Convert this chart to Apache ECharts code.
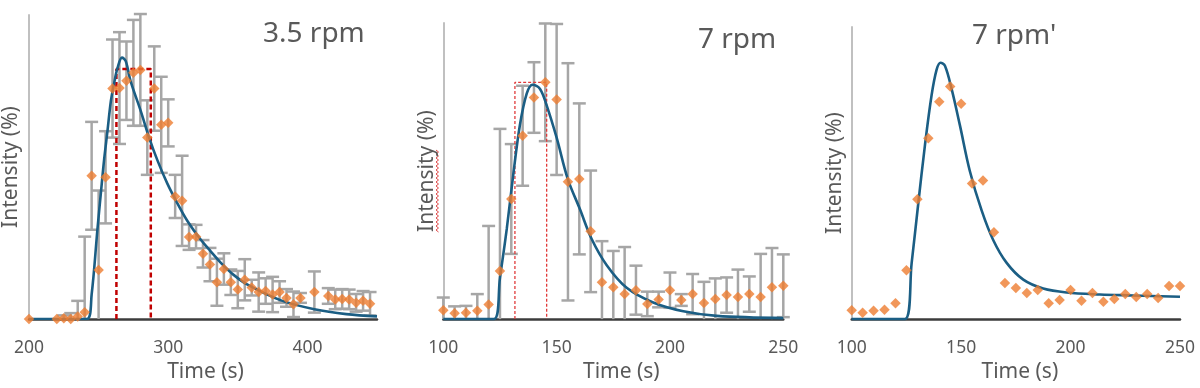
<!DOCTYPE html>
<html>
<head>
<meta charset="utf-8">
<script src="https://cdn.jsdelivr.net/npm/echarts@6/dist/echarts.min.js"></script>
<style>
html,body{margin:0;padding:0;background:#fff;}
#c{width:1200px;height:388px;}
</style>
</head>
<body>
<div id="c"></div>
<script>
// ---------- Panel 1: 3.5 rpm ----------
const t1 = [200,220,225,230,235,240,245,250,255,260,265,270,275,280,285,290,295,300,305,310,315,320,325,330,335,340,345,350,355,360,365,370,375,380,385,390,395,405,415,420,425,430,435,440,445];
const v1 = [0,0,0.7,0,2.5,7,146,50,144.5,235,235.5,243,251,254,185,235,198,200,125,120.5,83.5,84,66.5,55.5,37.5,51,37.5,30,40,32,27.5,28.5,25,27.5,21.5,15,21.5,27.5,23.5,20,20.5,20,16.5,18.5,15.5];
const e1 = [0,0,3,6,16,77,55,81,47,50,57,40,54,57,38,43,49,24,22,46,13,12,14,17,24,16,13,19,21,8,20,13,18,11,9,13,5,21,8,10,10,10,9,10,12];
const ct1 = [200,241.6,245,249.2,251.6,254,256.4,258.8,261.1,263.6,266.8,269.5,273.1,280.3,286.3,292.2,299.4,306.6,313.8,323.3,330.5,338,347,357,381,405,428,450];
const cv1 = [0,0,25,92,128,163,192,222,240,256,266.5,263,242,212,185,162,138,118,100,81,69,57,45,35,19,10,5,2.7];
const rectX1 = [262.8,287.5];
const rectH1 = 255;

// ---------- Panel 2: 7 rpm ----------
const t2 = [100,105,110,115,120,125,130,135,140,145,150,155,160,165,170,175,180,185,190,195,200,205,210,215,220,225,230,235,240,245,250];
const v2 = [9,6,6.5,8.5,15,49,122.5,187,226,241.5,224,140,143,89.5,37.5,32.5,25.5,29.5,15.5,20,29.5,19.5,25.5,16.5,20.5,24.5,22.5,25.5,22.5,32.5,34];
const e2 = [13,7,7,17,80,145,56,51,36,60,77,121,77,62,42,37,48,25,12.5,8,18,6,20.5,21.5,21,18,28,18,44,40,32];
const ct2 = [100,122.4,125,128,130.9,133.8,136.8,139.4,142.6,145.6,150,154.9,160.3,165.4,172.1,180.9,192.6,205.9,220.6,250];
const cv2 = [0,0,42,92,148,198,230,239,235,218,185,143,112,82,55,32,17,8,3.3,1];
const rectX2 = [131.6,145.6];
const rectH2 = 241.5;

// ---------- Panel 3: 7 rpm' ----------
const t3 = [100,105,110,115,120,125,130,135,140,145,150,155,160,165,170,175,180,185,190,195,200,205,210,215,220,225,230,235,240,245,250];
const v3 = [9,6.5,8.5,9.5,16,49.5,121.5,183.5,220.5,236,218.5,137.5,140.5,88,36.5,31.5,26.5,29.5,16,19.5,29.5,18.5,26.5,17.5,20.5,25.5,22.5,25.5,21.5,33.5,33.5];
const ct3 = [100,124.3,127.4,130.4,133.5,136.5,138.8,140.6,142.6,145.7,149.4,154,159.4,164.7,170.8,178.4,187.5,198.2,213.4,228.6,250];
const cv3 = [0,0,57,117,177,227,253,260,257,233,197,150,110,80,57,40,31,27,25,24,22.6];

// ---------- Text ----------
const titles = ['3.5 rpm','7 rpm',"7 rpm'"];
const xName = 'Time (s)';
const yName = 'Intensity (%)';

const FONT = '"Noto Sans", "Open Sans", sans-serif';
const TXT = '#595959';
const ORANGE = '#ED7D31';
const BLUE = '#1B5E84';
const GRAY = '#A6A6A6';

const zip = (a,b) => a.map((x,i)=>[x,b[i]]);

const grids = [
  {left:28, top:15, width:349, height:310},
  {left:443.3, top:23, width:340, height:302},
  {left:851.7, top:27, width:328.3, height:296.3}
];
const xRanges = [[200,450,100],[100,250,50],[100,250,50]];
const yMax = [310,302,296.3];
const xNameGap = [43,32,34];
const xNamePad = [5,16,8];
const yNameGap = [7,5.5,6];

function xAxis(i){
  return {
    gridIndex:i, type:'value', min:xRanges[i][0], max:xRanges[i][1], interval:xRanges[i][2],
    axisLine:{show:true, onZero:false, lineStyle:{color:'#3c3c3c', width:2.5}},
    axisTick:{show:false}, splitLine:{show:false},
    axisLabel:{color:TXT, fontSize:17.5, fontFamily:FONT, margin:20, showMaxLabel: i!==0},
    name:xName, nameLocation:'middle', nameGap:xNameGap[i],
    nameTextStyle:{color:TXT, fontSize:21, fontFamily:FONT, padding:[0,0,0,xNamePad[i]]}
  };
}
function yAxis(i){
  return {
    gridIndex:i, type:'value', min:0, max:yMax[i],
    axisLine:{show:true, lineStyle:{color:'#C0C0C0', width:2}},
    axisTick:{show:false}, splitLine:{show:false}, axisLabel:{show:false},
    name:yName, nameLocation:'middle', nameGap:yNameGap[i], nameRotate:90,
    nameTextStyle:{color:TXT, fontSize:21, fontFamily:FONT}
  };
}

function errSeries(i,t,v,e){
  return {
    type:'custom', xAxisIndex:i, yAxisIndex:i, z:1, silent:true,
    data:t.map((x,k)=>[x,v[k],e[k]]),
    renderItem:function(params, api){
      const x=api.value(0), y=api.value(1), er=api.value(2);
      if(!er) return null;
      const lo=Math.max(0,y-er), hi=y+er;
      const pT=api.coord([x,hi]), pB=api.coord([x,lo]);
      const st={stroke:GRAY, lineWidth:2.5};
      const c=6.5;
      const ch=[
        {type:'line', shape:{x1:pT[0],y1:pT[1],x2:pB[0],y2:pB[1]}, style:st},
        {type:'line', shape:{x1:pT[0]-c,y1:pT[1],x2:pT[0]+c,y2:pT[1]}, style:st}
      ];
      if(lo>0) ch.push({type:'line', shape:{x1:pB[0]-c,y1:pB[1],x2:pB[0]+c,y2:pB[1]}, style:st});
      return {type:'group', children:ch};
    }
  };
}
function rectSeries(i,xs,h,color,width,dash){
  return {
    type:'line', xAxisIndex:i, yAxisIndex:i, z:2, silent:true, symbol:'none',
    data:[[xs[0],0],[xs[0],h],[xs[1],h],[xs[1],0]],
    lineStyle:{color:color, width:width, type:dash}
  };
}
function curveSeries(i,x,y){
  return {
    type:'line', xAxisIndex:i, yAxisIndex:i, z:3, silent:true, symbol:'none',
    smooth:0.35, data:zip(x,y), lineStyle:{color:BLUE, width:2.6}
  };
}
function ptSeries(i,x,y){
  return {
    type:'scatter', xAxisIndex:i, yAxisIndex:i, z:4, silent:true,
    symbol:'diamond', symbolSize:10.5, data:zip(x,y), itemStyle:{color:ORANGE}
  };
}

// red spell-check squiggle under "Intensity" in panel 2
const squig = [];
for(let y=150, k=0; y<=233; y+=2, k++){ squig.push([k%2 ? 438.5 : 436, y]); }

const chart = echarts.init(document.getElementById('c'), null, {renderer:'canvas'});
chart.setOption({
  animation:false,
  backgroundColor:'#ffffff',
  grid:grids,
  xAxis:[xAxis(0),xAxis(1),xAxis(2)],
  yAxis:[yAxis(0),yAxis(1),yAxis(2)],
  series:[
    errSeries(0,t1,v1,e1),
    rectSeries(0,rectX1,rectH1,'#C00000',2.5,[5,3]),
    curveSeries(0,ct1,cv1),
    ptSeries(0,t1,v1),
    errSeries(1,t2,v2,e2),
    rectSeries(1,rectX2,rectH2,'#E03A3A',1.3,[3,2]),
    curveSeries(1,ct2,cv2),
    ptSeries(1,t2,v2),
    curveSeries(2,ct3,cv3),
    ptSeries(2,t3,v3)
  ],
  graphic:[
    {type:'text', left:263, top:20, style:{text:titles[0], font:'28px '+FONT, fill:TXT}},
    {type:'text', left:698, top:26, style:{text:titles[1], font:'28px '+FONT, fill:TXT}},
    {type:'text', left:972, top:22, style:{text:titles[2], font:'28px '+FONT, fill:TXT}},
    {type:'polyline', shape:{points:squig}, style:{stroke:'#E04848', lineWidth:1, fill:null}, silent:true}
  ]
});
</script>
</body>
</html>
